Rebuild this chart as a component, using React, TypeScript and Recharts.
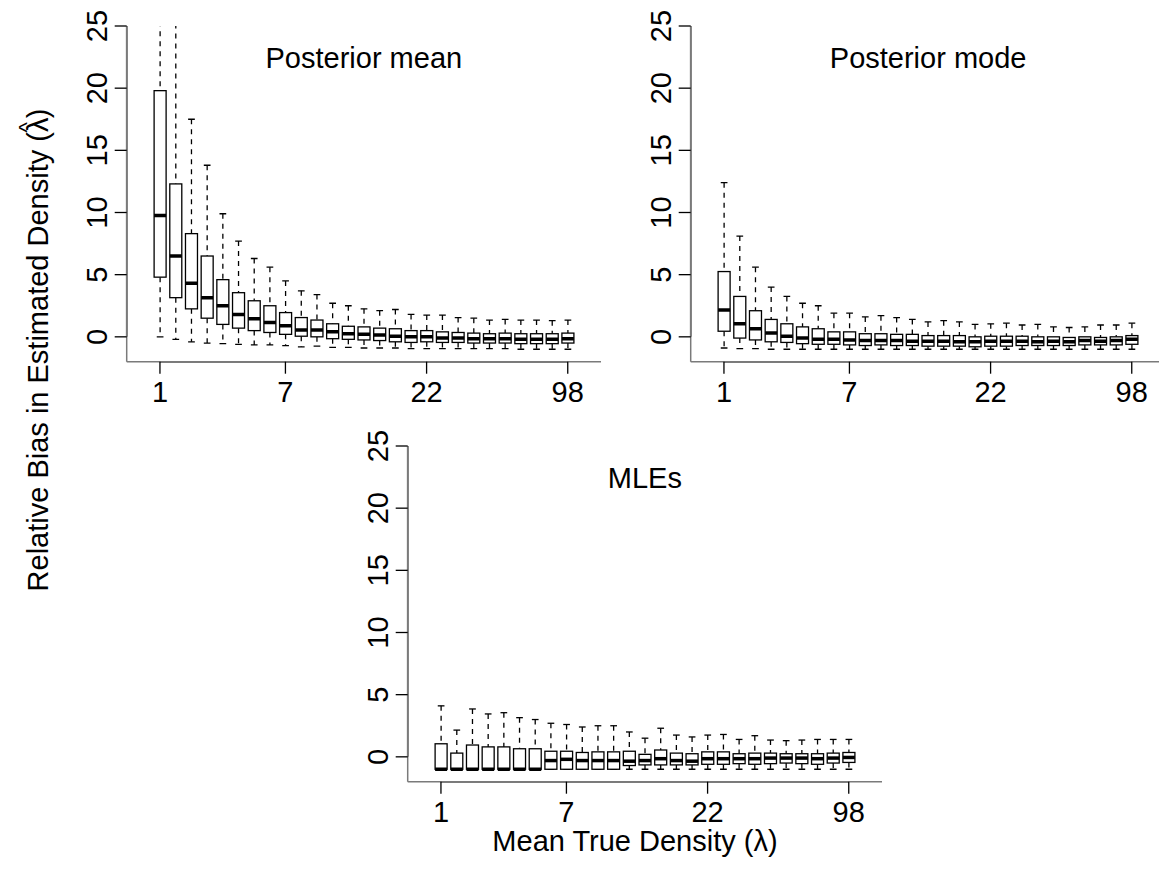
import React from 'react';
import { ComposedChart, Bar, XAxis, YAxis, ReferenceLine } from 'recharts';

// 27 density levels, only four of them labelled on the axis
const boxIds = [1, 2, 3, 4, 5, 6, 7, 8, 9, 10, 11, 12, 13, 14, 15, 16, 17, 18, 19, 20, 21, 22, 23, 24, 25, 26, 27];
const tickPositions = [1, 9, 18, 27];
const tickLabels = ['1', '7', '22', '98'];
const yTicks = [0, 5, 10, 15, 20, 25];

// Posterior mean
const meanHigh = [27, 26, 17.5, 13.8, 9.9, 7.7, 6.3, 5.6, 4.5, 3.7, 3.4, 2.7, 2.5, 2.25, 2.1, 2.2, 1.8, 1.75, 1.75, 1.55, 1.5, 1.35, 1.4, 1.35, 1.35, 1.3, 1.35];
const meanQ3 = [19.8, 12.3, 8.3, 6.5, 4.6, 3.55, 2.9, 2.5, 1.95, 1.55, 1.35, 1.05, 0.85, 0.8, 0.7, 0.65, 0.5, 0.5, 0.4, 0.35, 0.3, 0.25, 0.3, 0.25, 0.25, 0.25, 0.3];
const meanMed = [9.75, 6.5, 4.3, 3.15, 2.5, 1.8, 1.45, 1.15, 0.9, 0.55, 0.55, 0.4, 0.25, 0.2, 0.15, 0.05, 0, 0, -0.1, -0.1, -0.15, -0.15, -0.15, -0.2, -0.2, -0.2, -0.15];
const meanQ1 = [4.8, 3.15, 2.25, 1.5, 1.0, 0.7, 0.5, 0.35, 0.2, 0.05, 0, -0.15, -0.2, -0.25, -0.3, -0.4, -0.45, -0.4, -0.45, -0.45, -0.5, -0.5, -0.5, -0.55, -0.55, -0.55, -0.5];
const meanLow = [0, -0.2, -0.4, -0.5, -0.55, -0.6, -0.65, -0.65, -0.7, -0.8, -0.75, -0.85, -0.85, -0.9, -0.9, -0.9, -0.95, -0.95, -0.95, -0.95, -0.95, -0.95, -0.95, -1, -1, -1, -1];

// Posterior mode
const modeHigh = [12.4, 8.1, 5.6, 4.0, 3.25, 2.7, 2.5, 1.9, 1.9, 1.6, 1.7, 1.55, 1.4, 1.2, 1.3, 1.2, 1.0, 1.05, 1.1, 0.95, 1.0, 0.8, 0.75, 0.8, 0.95, 0.95, 1.1];
const modeQ3 = [5.25, 3.25, 2.1, 1.4, 1.05, 0.8, 0.65, 0.4, 0.4, 0.25, 0.25, 0.2, 0.2, 0.1, 0.1, 0.1, 0, 0.05, 0.05, 0.05, 0, 0, -0.05, 0, -0.05, 0, 0.1];
const modeMed = [2.15, 1.05, 0.65, 0.3, 0.05, -0.1, -0.2, -0.2, -0.25, -0.3, -0.3, -0.3, -0.35, -0.35, -0.35, -0.4, -0.4, -0.35, -0.35, -0.35, -0.4, -0.35, -0.4, -0.3, -0.35, -0.3, -0.2];
const modeQ1 = [0.45, -0.1, -0.25, -0.4, -0.45, -0.55, -0.6, -0.6, -0.65, -0.7, -0.65, -0.7, -0.7, -0.75, -0.75, -0.75, -0.8, -0.75, -0.75, -0.7, -0.7, -0.7, -0.7, -0.65, -0.65, -0.65, -0.6];
const modeLow = [-0.9, -0.95, -0.95, -1, -1, -1, -1, -1, -1, -1, -1, -1, -1, -1, -1, -1, -1, -1, -1, -1, -1, -1, -1, -1, -1, -1, -1];

// MLEs
const mleHigh = [4.1, 2.15, 3.85, 3.45, 3.55, 3.15, 3.0, 2.7, 2.6, 2.4, 2.5, 2.5, 2.0, 1.5, 2.3, 1.75, 1.6, 1.75, 1.8, 1.4, 1.7, 1.35, 1.3, 1.35, 1.4, 1.4, 1.4];
const mleQ3 = [1.05, 0.3, 0.95, 0.8, 0.8, 0.65, 0.65, 0.45, 0.45, 0.35, 0.4, 0.4, 0.45, 0.2, 0.55, 0.3, 0.25, 0.4, 0.4, 0.25, 0.3, 0.3, 0.25, 0.25, 0.25, 0.3, 0.35];
const mleMed = [-1, -1, -1, -1, -1, -1, -1, -0.3, -0.2, -0.3, -0.3, -0.3, -0.35, -0.3, -0.15, -0.3, -0.35, -0.15, -0.15, -0.15, -0.15, -0.1, -0.1, -0.1, -0.15, -0.1, -0.05];
const mleQ1 = [-1, -1, -1, -1, -1, -1, -1, -1, -1, -1, -1, -1, -0.7, -0.65, -0.65, -0.65, -0.65, -0.6, -0.6, -0.55, -0.6, -0.55, -0.5, -0.55, -0.6, -0.5, -0.45];
const mleLow = [-1, -1, -1, -1, -1, -1, -1, -1, -1, -1, -1, -1, -1, -1, -1, -1, -1, -1, -1, -1, -1, -1, -1, -1, -1, -1, -1];

const FONT = '"Liberation Sans", Arial, Helvetica, sans-serif';
const X_DOMAIN: [number, number] = [-1.12, 29.12];
const Y_DOMAIN: [number, number] = [-2, 25];
const GREY = '#7a7a7a';

const buildRows = (low: number[], q1: number[], med: number[], q3: number[], high: number[]) =>
  boxIds.map((id, i) => ({ id, low: low[i], q1: q1[i], med: med[i], q3: q3[i], high: high[i] }));

const BoxShape = (props: any) => {
  const { x, y, width, height, payload } = props;
  if (!payload) return null;
  const top = Math.min(y, y + height);
  const h = Math.abs(height);
  const span = payload.high - payload.low || 1;
  const py = (v: number) => top + ((payload.high - v) / span) * h;
  const cx = x + width / 2;
  const cap = width * 0.28;
  return (
    <g>
      <line x1={cx} x2={cx} y1={py(payload.high)} y2={py(payload.q3)} stroke="#000" strokeWidth={1.3} strokeDasharray="5 5" />
      <line x1={cx} x2={cx} y1={py(payload.q1)} y2={py(payload.low)} stroke="#000" strokeWidth={1.3} strokeDasharray="5 5" />
      <line x1={cx - cap} x2={cx + cap} y1={py(payload.high)} y2={py(payload.high)} stroke="#000" strokeWidth={1.3} />
      <line x1={cx - cap} x2={cx + cap} y1={py(payload.low)} y2={py(payload.low)} stroke="#000" strokeWidth={1.3} />
      <rect x={x} y={py(payload.q3)} width={width} height={py(payload.q1) - py(payload.q3)} fill="#fff" stroke="#000" strokeWidth={1.3} />
      <line x1={x} x2={x + width} y1={py(payload.med)} y2={py(payload.med)} stroke="#000" strokeWidth={3.5} />
    </g>
  );
};

const XTick = (props: any) => {
  const { x, y, payload } = props;
  const i = tickPositions.indexOf(payload.value);
  return (
    <text x={x} y={y + 28} textAnchor="middle" fontSize={29} fontFamily={FONT} fill="#000">
      {i >= 0 ? tickLabels[i] : ''}
    </text>
  );
};

const YTick = (props: any) => {
  const { x, y, payload } = props;
  const bx = x - 8;
  return (
    <text x={bx} y={y} transform={`rotate(-90, ${bx}, ${y})`} textAnchor="middle" fontSize={29} fontFamily={FONT} fill="#000">
      {payload.value}
    </text>
  );
};

const Panel = ({ rows, left, top, title }: { rows: any[]; left: number; top: number; title: string }) => (
  <div style={{ position: 'absolute', left, top }}>
    <ComposedChart width={615} height={420} data={rows} margin={{ top: 26, right: 14, bottom: 8.3, left: 66.7 }}>
      <XAxis
        dataKey="id"
        type="number"
        domain={X_DOMAIN}
        ticks={tickPositions}
        interval={0}
        height={50}
        tickSize={12}
        tickMargin={0}
        tick={<XTick />}
        axisLine={{ stroke: GREY, strokeWidth: 1.5 }}
        tickLine={{ stroke: '#000', strokeWidth: 1.3 }}
      />
      <YAxis
        type="number"
        domain={Y_DOMAIN}
        ticks={yTicks}
        interval={0}
        allowDataOverflow
        width={60}
        tickSize={12}
        tickMargin={0}
        tick={<YTick />}
        axisLine={{ stroke: GREY, strokeWidth: 1.5 }}
        tickLine={{ stroke: '#000', strokeWidth: 1.3 }}
      />
      <ReferenceLine segment={[{ x: X_DOMAIN[0], y: 0 }, { x: X_DOMAIN[0], y: 25 }]} stroke="#000" strokeWidth={1.5} />
      <ReferenceLine segment={[{ x: 1, y: Y_DOMAIN[0] }, { x: 27, y: Y_DOMAIN[0] }]} stroke="#000" strokeWidth={1.5} />
      <Bar dataKey={(d: any) => [d.low, d.high]} barSize={12} shape={<BoxShape />} isAnimationActive={false} />
    </ComposedChart>
    <div
      style={{
        position: 'absolute',
        left: 126.7,
        width: 474.3,
        top: 44,
        textAlign: 'center',
        fontFamily: FONT,
        fontSize: 29,
        lineHeight: '29px',
        color: '#000',
      }}
    >
      {title}
    </div>
  </div>
);

export default function App() {
  return (
    <div style={{ position: 'absolute', left: 0, top: 0, width: 1159, height: 875, overflow: 'hidden', background: '#fff' }}>
      <Panel rows={buildRows(meanLow, meanQ1, meanMed, meanQ3, meanHigh)} left={0} top={0} title="Posterior mean" />
      <Panel rows={buildRows(modeLow, modeQ1, modeMed, modeQ3, modeHigh)} left={564.3} top={0} title="Posterior mode" />
      <Panel rows={buildRows(mleLow, mleQ1, mleMed, mleQ3, mleHigh)} left={281} top={420} title="MLEs" />
      <svg width={1159} height={875} style={{ position: 'absolute', left: 0, top: 0, pointerEvents: 'none' }}>
        <text x={48} y={350} transform="rotate(-90, 48, 350)" textAnchor="middle" fontSize={29} fontFamily={FONT} fill="#000">
          <tspan>Relative Bias in Estimated Density (λ</tspan>
          <tspan dx={-15} dy={-14} fontSize={22}>^</tspan>
          <tspan dx={4} dy={14}>)</tspan>
        </text>
        <text x={635} y={851} textAnchor="middle" fontSize={29} fontFamily={FONT} fill="#000">
          Mean True Density (λ)
        </text>
      </svg>
    </div>
  );
}
